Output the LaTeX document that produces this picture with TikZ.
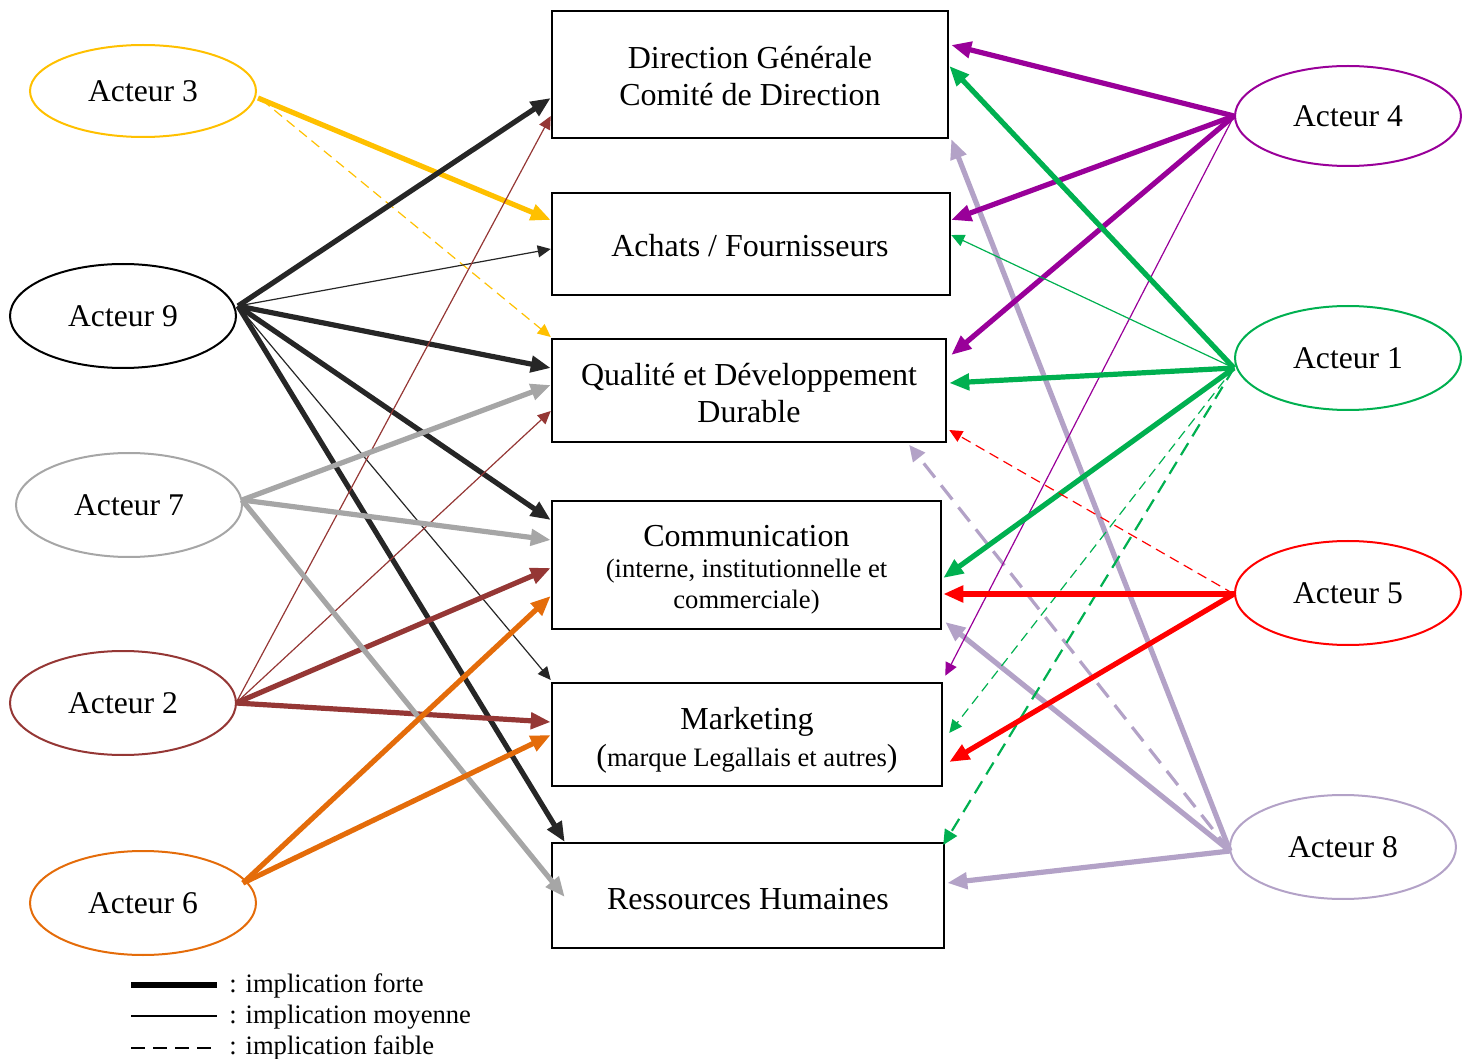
\documentclass[tikz,border=0pt]{standalone}
\usepackage{fontspec}
\setmainfont{Liberation Serif}
\usetikzlibrary{shapes.geometric,arrows.meta,calc}
\definecolor{cgold}{HTML}{FFC000}
\definecolor{cblack}{HTML}{262626}
\definecolor{cgray}{HTML}{A6A6A6}
\definecolor{cbrown}{HTML}{953735}
\definecolor{corange}{HTML}{E46C0A}
\definecolor{cpurple}{HTML}{990099}
\definecolor{cgreen}{HTML}{00B050}
\definecolor{cred}{HTML}{FF0000}
\definecolor{clav}{HTML}{B3A2C7}
\tikzset{
  box/.style={draw=black, line width=1.25pt, fill=white, inner sep=0pt},
  boxtxt/.style={align=center, inner sep=0pt, font=\fontsize{16}{18.5}\selectfont},
  actor/.style={ellipse, draw, line width=1pt, minimum width=113pt, minimum height=52pt,
    font=\fontsize{15.8}{18}\selectfont, inner sep=0pt},
  strong/.style={line width=2.6pt, -{Triangle[length=10pt,width=8pt]}},
  medium/.style={line width=0.6pt, -{Triangle[length=6.5pt,width=6pt]}},
  weak/.style={line width=0.6pt, dash pattern=on 5pt off 3pt, -{Triangle[length=6.5pt,width=6pt]}},
  weakbold/.style={line width=1.1pt, dash pattern=on 7pt off 4pt, -{Triangle[length=7.5pt,width=7pt]}},
  weakthick/.style={line width=1.6pt, dash pattern=on 9pt off 5pt, -{Triangle[length=8pt,width=7.5pt]}},
  legtext/.style={anchor=west, inner sep=0pt, font=\fontsize{13.3}{15}\selectfont}
}
\begin{document}
\begin{tikzpicture}[x=0.5pt,y=-0.5pt]
\useasboundingbox (0,0) rectangle (1469,1059);

% boxes
\node[box, minimum width=198pt, minimum height=63.5pt] (dg) at (750,74.5) {};
\node[boxtxt] (dgT) at ($(dg.center)+(0,2)$) {Direction Générale\\Comité de Direction};
\node[box, minimum width=199pt, minimum height=51pt] (ach) at (751,244) {};
\node[boxtxt] (achT) at ($(ach.center)+(-1,2)$) {Achats / Fournisseurs};
\node[box, minimum width=197pt, minimum height=51.5pt] (qual) at (749,390.5) {};
\node[boxtxt] (qualT) at ($(qual.center)+(0,3)$) {Qualité et Développement\\Durable};
\node[box, minimum width=194.5pt, minimum height=64pt] (comm) at (746.5,565) {};
\node[boxtxt] (commT) at ($(comm.center)+(0,5)$)
  {Communication\\[-3pt]{\fontsize{13.3}{15}\selectfont (interne, institutionnelle et}\\[-3pt]{\fontsize{13.3}{15}\selectfont commerciale)}};
\node[box, minimum width=195pt, minimum height=51.5pt] (mkt) at (747,734.5) {};
\node[boxtxt] (mktT) at ($(mkt.center)+(0,6)$)
  {Marketing\\[0pt]({\fontsize{13.3}{15}\selectfont marque Legallais et autres})};
\node[box, minimum width=196pt, minimum height=52.5pt] (rh) at (748,895.5) {};
\node[boxtxt] (rhT) at ($(rh.center)+(0,4)$) {Ressources Humaines};

% actors
\node[actor, draw=cgold, minimum height=46pt] (a3) at (143,91) {\raisebox{-0.5pt}{Acteur 3}};
\node[actor, draw=black] (a9) at (123,316) {\raisebox{-0.5pt}{Acteur 9}};
\node[actor, draw=cgray] (a7) at (129,505) {\raisebox{-0.5pt}{Acteur 7}};
\node[actor, draw=cbrown] (a2) at (123,703) {\raisebox{-0.5pt}{Acteur 2}};
\node[actor, draw=corange] (a6) at (143,903) {\raisebox{-0.5pt}{Acteur 6}};
\node[actor, draw=cpurple, minimum height=50pt] (a4) at (1348,116) {\raisebox{-0.5pt}{Acteur 4}};
\node[actor, draw=cgreen] (a1) at (1348,358) {\raisebox{-0.5pt}{Acteur 1}};
\node[actor, draw=cred] (a5) at (1348,593) {\raisebox{-0.5pt}{Acteur 5}};
\node[actor, draw=clav] (a8) at (1343,847) {\raisebox{-0.5pt}{Acteur 8}};

% start points
\coordinate (s3) at ($(a3.center)+(115,7)$);
\coordinate (s3d) at ($(a3.center)+(119,9)$);
\coordinate (s9) at ($(a9.center)+(115,-10)$);
\coordinate (s7) at ($(a7.center)+(113,-5)$);
\coordinate (s2) at ($(a2.center)+(113,0)$);
\coordinate (s6) at ($(a6.center)+(100,-20)$);
\coordinate (s4) at ($(a4.center)+(-114,0)$);
\coordinate (s1) at ($(a1.center)+(-114,10)$);
\coordinate (s5) at ($(a5.center)+(-114,1)$);
\coordinate (s8) at ($(a8.center)+(-113,4)$);

% Acteur 3
\draw[strong, cgold] (s3) -- ($(ach.west)+(0,-24)$);
\draw[weak, cgold] (s3d) -- ($(qual.west)+(0,-53.5)$);

% Acteur 9
\draw[strong, cblack] (s9) -- ($(dg.west)+(0,23.5)$);
\draw[medium, cblack] (s9) -- ($(ach.west)+(0,5)$);
\draw[strong, cblack] (s9) -- ($(qual.west)+(0,-22.5)$);
\draw[strong, cblack] (s9) -- ($(comm.west)+(0,-45)$);
\draw[medium, cblack] (s9) -- ($(mkt.west)+(0,-54.5)$);
\draw[strong, cblack] (s9) -- ($(rh.west)+(14,-53.5)$);

% Acteur 2
\draw[medium, cbrown] (s2) -- ($(dg.west)+(0,41.5)$);
\draw[medium, cbrown] (s2) -- ($(qual.west)+(0,20.5)$);
\draw[strong, cbrown] (s2) -- ($(comm.west)+(0,3)$);
\draw[strong, cbrown] (s2) -- ($(mkt.west)+(0,-12.5)$);

% Acteur 7
\draw[strong, cgray] (s7) -- ($(qual.west)+(0,-5.5)$);
\draw[strong, cgray] (s7) -- ($(comm.west)+(0,-25)$);
\draw[strong, cgray] (s7) -- ($(rh.west)+(14,1.5)$);

% Acteur 6
\draw[strong, corange] (s6) -- ($(comm.west)+(0,31)$);
\draw[strong, corange] (s6) -- ($(mkt.west)+(0,0.5)$);

% Acteur 8
\draw[strong, clav] (s8) -- ($(dg.east)+(2,64.5)$);
\draw[weakthick, clav] (s8) -- ($(qual.east)+(-38,54.5)$);
\draw[strong, clav] (s8) -- ($(comm.east)+(3,57)$);
\draw[strong, clav] (s8) -- ($(rh.east)+(2,-12.5)$);

% Acteur 4
\draw[strong, cpurple] (s4) -- ($(dg.east)+(2,-29.5)$);
\draw[strong, cpurple] (s4) -- ($(ach.east)+(0,-24)$);
\draw[strong, cpurple] (s4) -- ($(qual.east)+(4,-35.5)$);
\draw[medium, cpurple] (s4) -- ($(mkt.north east)+(2,-6)$);

% Acteur 1
\draw[strong, cgreen] (s1) -- ($(dg.east)+(0,-8.5)$);
\draw[medium, cgreen] (s1) -- ($(ach.east)+(0,-9)$);
\draw[strong, cgreen] (s1) -- ($(qual.east)+(2,-7.5)$);
\draw[strong, cgreen] (s1) -- ($(comm.east)+(1,13)$);
\draw[weak, cgreen] (s1) -- ($(mkt.east)+(6,-1.5)$);
\draw[weakbold, cgreen] (s1) -- ($(rh.east)+(-2,-50.5)$);

% Acteur 5
\draw[weak, cred] (s5) -- ($(qual.east)+(2,39.5)$);
\draw[strong, cred] (s5) -- ($(comm.east)+(1,29)$);
\draw[strong, cred] (s5) -- ($(mkt.east)+(6,27.5)$);

% legend
\draw[line width=3pt] (131,985) -- (217,985);
\draw[line width=0.8pt] (131,1016) -- (217,1016);
\draw[line width=0.8pt, dash pattern=on 7pt off 4pt] (131,1048) -- (217,1048);
\node[legtext] (l1) at (229,986) {: implication forte};
\node[legtext] (l2) at (229,1017) {: implication moyenne};
\node[legtext] (l3) at (229,1048) {: implication faible};
\end{tikzpicture}
\end{document}
